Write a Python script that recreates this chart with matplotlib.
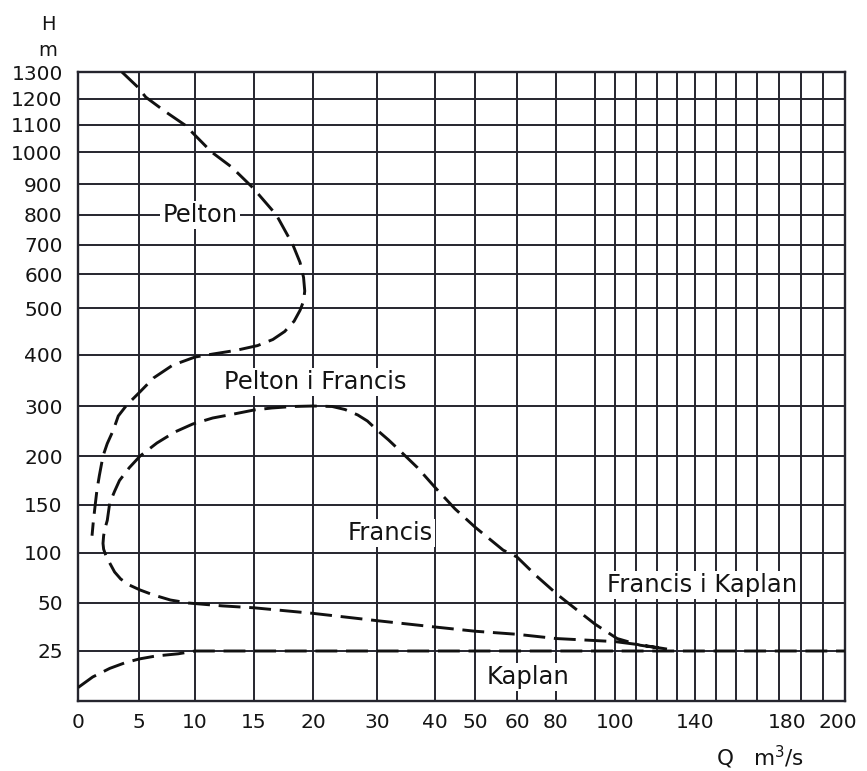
import numpy as np
import matplotlib
matplotlib.use('Agg')
import matplotlib.pyplot as plt
from matplotlib.transforms import ScaledTranslation

# ---- printed (non-linear) scales of the nomogram: value -> printed position ----
q_scale_vals = [0, 5, 10, 15, 20, 30, 40, 50, 60, 80, 90, 100, 110, 120, 130, 140,
                150, 160, 170, 180, 190, 200, 210]
q_scale_pos = [78, 139, 195, 254, 313, 377, 435, 475, 517, 556, 595, 615, 636, 657,
               677, 695, 716, 736, 757, 779, 801, 823, 845]
h_scale_vals = [0, 25, 50, 100, 150, 200, 300, 400, 500, 600, 700, 800, 900, 1000,
                1100, 1200, 1300]
h_scale_pos = [0, 50, 98, 148, 196, 245, 295, 346, 393, 427, 456, 486, 517, 549,
               576, 602, 629]

# ---- tick labels ----
q_ticks = [0, 5, 10, 15, 20, 30, 40, 50, 60, 80, 100, 140, 180, 200]
q_minor = [90, 110, 120, 130, 150, 160, 170, 190]
h_ticks = [25, 50, 100, 150, 200, 300, 400, 500, 600, 700, 800, 900, 1000, 1100, 1200, 1300]

# ---- boundary curves (Q in m3/s, H in m) ----
pelton_q = [3.6, 4.9, 5.6, 7.4, 9.1, 11.4, 13.1, 14.9, 16.9, 18.3, 18.9, 19.2, 19.3,
            19.2, 18.9, 18.4, 17.6, 16.6, 15.3, 13.5, 11.5, 10.0, 8.0, 6.3, 5.1, 4.0,
            3.3, 2.9, 2.4, 2.05, 1.75, 1.55, 1.4, 1.25, 1.15]
pelton_h = [1300, 1244, 1207, 1150, 1100, 1000, 953, 888, 800, 700, 640, 590, 550,
            520, 495, 472, 450, 433, 420, 410, 402, 396, 380, 355, 328, 302,
            280, 252, 225, 200, 180, 165, 149, 132, 118]

francis_q = [125, 112, 100, 80, 60, 50, 40, 30, 20, 15, 12.3, 9.4, 7.8, 6.3, 5.1, 4.2,
             3.5, 3.0, 2.6, 2.3, 2.1, 2.05, 2.1, 2.2, 2.4, 2.6, 3.0, 3.4, 4.2, 5.1, 6.6,
             8.2, 9.8, 11.5, 13.3, 15, 16.5, 18.3, 20, 23, 25, 27, 28.5, 30, 32, 34,
             37, 40, 45, 50, 56.7, 60, 70, 80.5, 90, 101, 112, 125]
francis_h = [26, 28.2, 29.9, 31.5, 33.7, 35.3, 37.5, 40.8, 44.6, 47.5, 48.5, 50, 53,
             58, 63, 68, 74, 81, 90, 97, 104, 110, 118, 125, 134, 152, 164, 175, 188,
             200, 226, 248, 264, 276, 284, 292, 296, 299, 300, 299, 293, 282, 270, 252,
             232, 210, 188, 168, 146, 127, 103, 96, 77, 58, 39, 31.5, 28, 26]

kaplan_q = [0, 1.2, 2.6, 3.8, 5, 6.5, 8.5, 10, 210]
kaplan_h = [6.7, 12, 16.3, 19, 21, 22.5, 23.6, 25, 25]

qv = np.array(q_scale_vals, float); qp = np.array(q_scale_pos, float)
hv = np.array(h_scale_vals, float); hp = np.array(h_scale_pos, float)

def fx(q):
    return np.interp(q, qv, qp)

def fxi(p):
    return np.interp(p, qp, qv)

def fy(h):
    return np.interp(h, hv, hp)

def fyi(p):
    return np.interp(p, hp, hv)

plt.rcParams['font.family'] = ['DejaVu Sans']
fig = plt.figure(figsize=(8.67, 7.71), dpi=100)
ax = fig.add_axes([78 / 867, 1 - 701 / 771, (845 - 78) / 867, (701 - 72) / 771])
ax.set_xscale('function', functions=(fx, fxi))
ax.set_yscale('function', functions=(fy, fyi))
ax.set_xlim(0, 210)
ax.set_ylim(0, 1300)

ax.set_xticks(q_ticks)
ax.set_xticks(q_minor, minor=True)
ax.set_yticks(h_ticks)
ax.set_xticklabels([str(v) for v in q_ticks])
ax.set_yticklabels([str(v) for v in h_ticks])

grid_col = '#25252e'
txt_col = '#141414'
ax.grid(True, which='both', color=grid_col, lw=1.4)
ax.set_axisbelow(True)
ax.tick_params(which='both', length=0, labelcolor=txt_col)
ax.tick_params(axis='y', pad=11, labelsize=14.5)
ax.tick_params(axis='x', pad=9, labelsize=14.5)
for s in ax.spines.values():
    s.set_color(grid_col)
    s.set_linewidth(1.7)

# nudge the last two x labels as printed
ticks = ax.xaxis.get_major_ticks()
for t, lab in zip(ticks, q_ticks):
    if lab == 180:
        t.label1.set_transform(t.label1.get_transform() + ScaledTranslation(0.08, 0, fig.dpi_scale_trans))
    if lab == 200:
        t.label1.set_transform(t.label1.get_transform() + ScaledTranslation(0.15, 0, fig.dpi_scale_trans))

dash_kw = dict(color='#111111', lw=2.1, dashes=(7.5, 3), solid_capstyle='butt', zorder=3)
ax.plot(pelton_q, pelton_h, **dash_kw)
ax.plot(francis_q, francis_h, **dash_kw)
ax.plot(kaplan_q, kaplan_h, **dash_kw)

bb = dict(facecolor='white', edgecolor='none', pad=1.5)
tkw = dict(transform=ax.transAxes, ha='center', va='center', fontsize=17.5, color=txt_col,
           bbox=bb, zorder=4)
ax.text((200 - 78) / 767, (701 - 215) / 629, 'Pelton', **tkw)
ax.text((315 - 78) / 767, (701 - 382) / 629, 'Pelton i Francis', **tkw)
ax.text((390 - 78) / 767, (701 - 533) / 629, 'Francis', **tkw)
ax.text((702 - 78) / 767, (701 - 585) / 629, 'Francis i Kaplan', **tkw)
ax.text((528 - 78) / 767, (701 - 677) / 629, 'Kaplan', **tkw)

fig.text(48 / 867, 1 - 25 / 771, 'H', ha='center', va='center', fontsize=14, color=txt_col)
fig.text(48 / 867, 1 - 50 / 771, 'm', ha='center', va='center', fontsize=14, color=txt_col)
fig.text(760 / 867, 1 - 757 / 771, r'Q   m$^{3}$/s', ha='center', va='center', fontsize=15.5,
         color=txt_col)

fig.savefig('out.png', dpi=100)
